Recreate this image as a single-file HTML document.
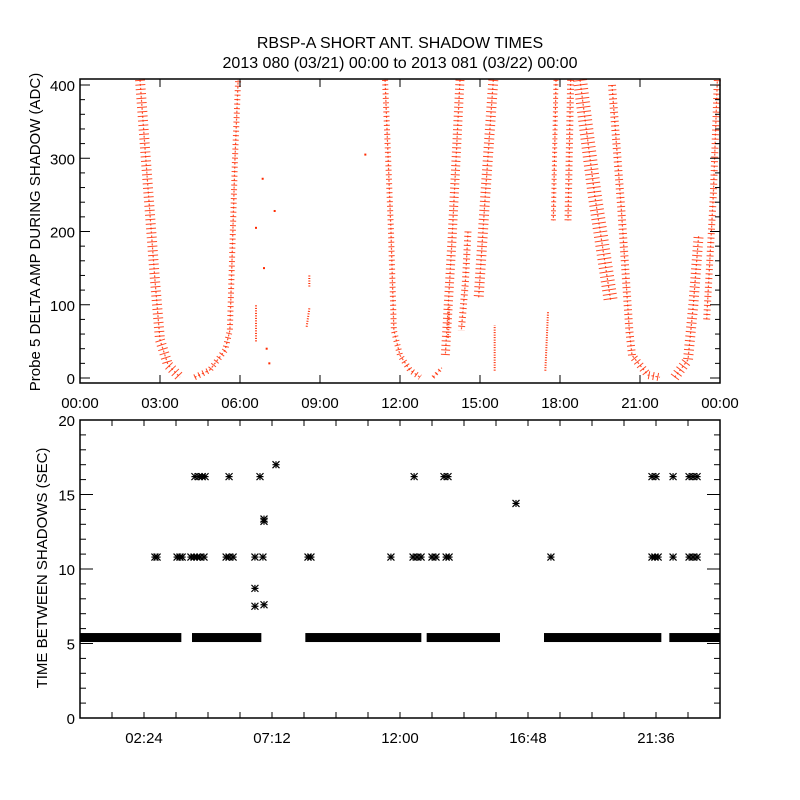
<!DOCTYPE html>
<html><head><meta charset="utf-8"><style>
body{margin:0;background:#fff;}
svg{display:block;font-family:"Liberation Sans",sans-serif;}
</style></head><body>
<svg id="chart" width="800" height="800" viewBox="0 0 800 800">
<rect width="800" height="800" fill="#fff"/>
<text x="400" y="48" text-anchor="middle" font-size="16">RBSP-A SHORT ANT. SHADOW TIMES</text>
<text x="400" y="68" text-anchor="middle" font-size="16">2013 080 (03/21) 00:00 to 2013 081 (03/22) 00:00</text>
<g id="topPanel"></g>
<g id="botPanel"></g>
</svg>
<script>
// ---- Top panel data: amplitude bands (hour, ADC) ----
const band1 = [[2.25,407],[2.47,298],[2.81,134],[3.0,52],[3.3,18],[3.75,1]];
const band2 = [[4.3,1],[4.87,11],[5.44,38],[5.62,65],[5.7,160],[5.81,298],[5.93,407]];
const band3 = [[11.44,407],[11.66,202],[11.77,65],[12.0,31],[12.37,11],[12.75,1]];
const band4 = [[13.24,1],[13.57,14]];
const band5 = [[14.25,407],[13.95,188],[13.7,31]];
const band6 = [[14.55,200],[14.45,130],[14.3,65]];
const band7 = [[15.5,407],[15.2,250],[14.95,110]];
const band8 = [[17.85,407],[17.75,215]];
const band9 = [[18.4,407],[18.3,215]];
const band10 = [[18.75,407],[19.3,250],[19.9,106]];
const band11 = [[19.95,400],[20.3,230],[20.6,65],[20.7,31],[21.3,4],[21.75,1]];
const band12 = [[22.3,1],[22.8,25],[23.0,100],[23.2,195]];
const band13 = [[23.5,80],[23.75,250],[23.9,407]];
const shortBands = [[[6.6,50],[6.6,100]],[[8.5,70],[8.6,95]],[[8.6,125],[8.6,140]],[[15.55,10],[15.55,72]],[[17.45,10],[17.55,90]],[[13.8,55],[13.85,100]]];
const bands = [band1,band2,band3,band4,band5,band6,band7,band8,band9,band10,band11,band12,band13];
const bandWidths = [10,6,6,4,9,7,10,5,7,14,8,10,7];
const strayT = [6.85,7.3,6.9,6.6,10.7,7.0,7.1];
const strayV = [272,228,150,205,305,40,20];
// ---- Bottom panel data ----
const baseVal = 5.4;
const baseSegs = [[0,3.8],[4.2,6.8],[8.45,12.8],[13.0,15.75],[17.4,21.8],[22.1,24]];
const ptT = [2.81,2.89,3.64,3.75,3.83,4.16,4.28,4.39,4.5,4.65,5.48,5.59,5.74,6.56,6.86,8.55,8.66,11.66,12.49,12.64,12.79,13.2,13.35,13.73,13.84,17.66,21.45,21.56,21.68,22.24,22.84,22.99,23.14,
 4.31,4.46,4.58,4.69,5.59,6.75,12.53,13.65,13.8,21.45,21.6,22.24,22.84,22.99,23.14,
 7.35,6.9,6.9,6.56,6.56,6.9,16.35];
const ptV = [10.8,10.8,10.8,10.8,10.8,10.8,10.8,10.8,10.8,10.8,10.8,10.8,10.8,10.8,10.8,10.8,10.8,10.8,10.8,10.8,10.8,10.8,10.8,10.8,10.8,10.8,10.8,10.8,10.8,10.8,10.8,10.8,10.8,
 16.2,16.2,16.2,16.2,16.2,16.2,16.2,16.2,16.2,16.2,16.2,16.2,16.2,16.2,16.2,
 17.0,13.2,13.35,8.7,7.5,7.6,14.4];
const topYTicks = [0,100,200,300,400];
const topXLabels = ["00:00","03:00","06:00","09:00","12:00","15:00","18:00","21:00","00:00"];
const botYTicks = [0,5,10,15,20];
const botXLabels = ["02:24","07:12","12:00","16:48","21:36"];

const NS="http://www.w3.org/2000/svg";
function mk(tag,attrs,parent){const e=document.createElementNS(NS,tag);for(const k in attrs)e.setAttribute(k,attrs[k]);parent.appendChild(e);return e;}
const L=80,R=720;
const xs=h=>L+h*(R-L)/24;
const T0=79,T1=383,yT=v=>378-v*0.7325;
const B0=420,B1=718,yB=v=>718-v*14.9;
const topG=document.getElementById('topPanel'),botG=document.getElementById('botPanel');

bands.forEach((b,i)=>{
 const p=mk('polyline',{points:b.map(q=>xs(q[0])+','+yT(q[1])).join(' '),fill:'none',stroke:'#ff2a00','stroke-width':bandWidths[i],'stroke-dasharray':'1 3.5','stroke-linejoin':'round','stroke-opacity':0.85},topG);
 
 
 const p2=mk('polyline',{points:b.map(q=>xs(q[0])+','+yT(q[1])).join(' '),fill:'none',stroke:'#ff2a00','stroke-width':1.2,'stroke-dasharray':'2 2','stroke-opacity':0.8},topG);
 
 
});
shortBands.forEach((b,i)=>{
 const p=mk('polyline',{points:b.map(q=>xs(q[0])+','+yT(q[1])).join(' '),fill:'none',stroke:'#ff2a00','stroke-width':2,'stroke-dasharray':'1 1.5'},topG);
 
 
});
strayT.forEach((t,i)=>{
 const r=mk('rect',{x:xs(t)-1,y:yT(strayV[i])-1,width:2,height:2,fill:'#ff2a00'},topG);
 
 
});
const tf=mk('rect',{x:L,y:T0,width:R-L,height:T1-T0,fill:'none',stroke:'#000','stroke-width':1.5},topG);


for(let v=0;v<=400;v+=20){const y=yT(v),len=(v%100===0)?10:5;
 mk('line',{x1:L,y1:y,x2:L+len,y2:y,stroke:'#000'},topG);mk('line',{x1:R,y1:y,x2:R-len,y2:y,stroke:'#000'},topG);}
topYTicks.forEach(v=>{const t=mk('text',{x:L-5,y:yT(v)+6,'text-anchor':'end','font-size':15},topG);t.textContent=v;
 
 });
topXLabels.forEach((s,i)=>{const x=xs(i*3);
 mk('line',{x1:x,y1:T1,x2:x,y2:T1-8,stroke:'#000'},topG);mk('line',{x1:x,y1:T0,x2:x,y2:T0+8,stroke:'#000'},topG);
 const t=mk('text',{x:x,y:408,'text-anchor':'middle','font-size':15},topG);t.textContent=s;
 
 });
const tyt=mk('text',{x:0,y:0,'text-anchor':'middle','font-size':15,transform:'translate(40,232) rotate(-90)'},topG);
tyt.textContent='Probe 5 DELTA AMP DURING SHADOW (ADC)';



baseSegs.forEach(s=>{
 const r=mk('rect',{x:xs(s[0]),y:yB(baseVal)-4.5,width:xs(s[1])-xs(s[0]),height:9,fill:'#000'},botG);
 
 
});
ptT.forEach((t,i)=>{
 const cx=xs(t),cy=yB(ptV[i]),s=3.5;
 const g=mk('g',{stroke:'#000','stroke-width':1.2},botG);
 
 
 mk('line',{x1:cx-s,y1:cy,x2:cx+s,y2:cy},g);mk('line',{x1:cx,y1:cy-s,x2:cx,y2:cy+s},g);
 mk('line',{x1:cx-s,y1:cy-s,x2:cx+s,y2:cy+s},g);mk('line',{x1:cx-s,y1:cy+s,x2:cx+s,y2:cy-s},g);
});
const bf=mk('rect',{x:L,y:B0,width:R-L,height:B1-B0,fill:'none',stroke:'#000','stroke-width':1.5},botG);


for(let v=0;v<=20;v++){const y=yB(v),len=(v%5===0)?13:6;
 mk('line',{x1:L,y1:y,x2:L+len,y2:y,stroke:'#000'},botG);mk('line',{x1:R,y1:y,x2:R-len,y2:y,stroke:'#000'},botG);}
for(let k=1;k<20;k++){const x=xs(k*1.2);
 mk('line',{x1:x,y1:B1,x2:x,y2:B1-6,stroke:'#000'},botG);mk('line',{x1:x,y1:B0,x2:x,y2:B0+6,stroke:'#000'},botG);}
botYTicks.forEach(v=>{const t=mk('text',{x:L-5,y:yB(v)+6,'text-anchor':'end','font-size':15},botG);t.textContent=v;
 
 });
botXLabels.forEach((s,i)=>{const t=mk('text',{x:xs(2.4+i*4.8),y:743,'text-anchor':'middle','font-size':15},botG);t.textContent=s;
 
 });
const byt=mk('text',{x:0,y:0,'text-anchor':'middle','font-size':15,transform:'translate(47,568) rotate(-90)'},botG);
byt.textContent='TIME BETWEEN SHADOWS (SEC)';


</script>
</body></html>
